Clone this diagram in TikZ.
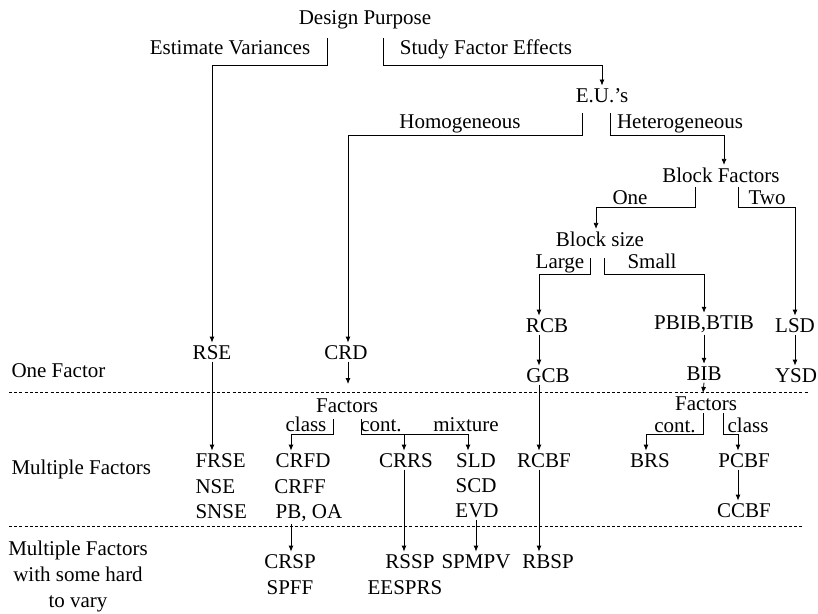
\documentclass[tikz,border=0pt]{standalone}
\usepackage{fontspec}
\setmainfont{Liberation Serif}
\usetikzlibrary{arrows.meta}
\begin{document}
\begin{tikzpicture}[x=1pt,y=-1pt,
  t/.style={inner sep=0pt,outer sep=2.5pt,anchor=base,font=\fontsize{21}{25}\selectfont},
  tl/.style={t,anchor=base west},
  ln/.style={line width=0.8pt},
  arr/.style={line width=0.8pt,-{Latex[length=6pt,width=5pt]}},
  sep/.style={line width=0.7pt,dash pattern=on 3pt off 2.2pt}]
\useasboundingbox (0,0) rectangle (818,613);
% ---------- text nodes ----------
\node[t] (dp) at (365,24) {Design Purpose};
\node[t] (ev) at (230,54) {Estimate Variances};
\node[t] (sfe) at (486,54) {Study Factor Effects};
\node[t] (eu) at (602,102) {E.U.'s};
\node[t] (hom) at (460,128) {Homogeneous};
\node[t] (het) at (680,128) {Heterogeneous};
\node[t] (bf) at (721,182) {Block Factors};
\node[t] (one) at (630,204) {One};
\node[t] (two) at (767,204) {Two};
\node[t] (bs) at (600,246) {Block size};
\node[t] (large) at (560,268) {Large};
\node[t] (small) at (652,268) {Small};
\node[t] (rcb) at (547,332) {RCB};
\node[t] (pbib) at (704,329) {PBIB,BTIB};
\node[t] (lsd) at (795,332) {LSD};
\node[t] (rse) at (212,359) {RSE};
\node[t] (crd) at (346,359) {CRD};
\node[tl] (of) at (9,377) {One Factor};
\node[t] (gcb) at (548,382) {GCB};
\node[t] (bib) at (704,380) {BIB};
\node[t] (ysd) at (796,382) {YSD};
\node[t] (fa1) at (347,412) {Factors};
\node[t] (cl1) at (306,431) {class};
\node[t] (co1) at (381,431) {cont.};
\node[t] (mix) at (466,431) {mixture};
\node[t] (fa2) at (706,410) {Factors};
\node[t] (co2) at (675,432) {cont.};
\node[t] (cl2) at (748,432) {class};
\node[tl] (frse) at (193,467) {FRSE};
\node[tl] (nse) at (193,493) {NSE};
\node[tl] (snse) at (193,518) {SNSE};
\node[tl] (mf) at (9,474) {Multiple Factors};
\node[t] (crfd) at (303,467) {CRFD};
\node[t] (crff) at (300,493) {CRFF};
\node[t] (pboa) at (309,518) {PB, OA};
\node[t] (crrs) at (406,467) {CRRS};
\node[t] (sld) at (476,467) {SLD};
\node[t] (scd) at (476,492) {SCD};
\node[t] (evd) at (477,517) {EVD};
\node[t] (rcbf) at (544,467) {RCBF};
\node[t] (brs) at (650,467) {BRS};
\node[t] (pcbf) at (744,467) {PCBF};
\node[t] (ccbf) at (744,517) {CCBF};
\node[t] (crsp) at (290,568) {CRSP};
\node[t] (spff) at (290,594) {SPFF};
\node[t] (rssp) at (410,568) {RSSP};
\node[t] (eesprs) at (405,594) {EESPRS};
\node[t] (spmpv) at (476,568) {SPMPV};
\node[t] (rbsp) at (548,568) {RBSP};
\node[t] (mfa) at (78,555) {Multiple Factors};
\node[t] (mfb) at (78,581) {with some hard};
\node[t] (mfc) at (78,607) {to vary};
% ---------- separators ----------
\coordinate (d1a) at (9,392); \coordinate (d1b) at (808,392);
\coordinate (d2a) at (9,526); \coordinate (d2b) at (803,526);
\draw[sep] (d1a) -- (d1b);
\draw[sep] (d2a) -- (d2b);
% ---------- bend points / columns ----------
\coordinate (ev0) at (327,38); \coordinate (ev1) at (327,65);
\coordinate (sf0) at (383,38); \coordinate (sf1) at (383,65);
\coordinate (ho0) at (582,113); \coordinate (ho1) at (582,135);
\coordinate (he0) at (610,113); \coordinate (he1) at (610,135);
\coordinate (on0) at (695,187); \coordinate (on1) at (695,207);
\coordinate (tw0) at (738,187); \coordinate (tw1) at (738,207);
\coordinate (la0) at (590,258); \coordinate (la1) at (590,274);
\coordinate (sm0) at (604,258); \coordinate (sm1) at (604,274);
\coordinate (ca0) at (333,419); \coordinate (ca1) at (333,434);
\coordinate (cb0) at (361,419); \coordinate (cb1) at (361,434);
\coordinate (cc0) at (703,413); \coordinate (cc1) at (703,434);
\coordinate (cd0) at (723,413); \coordinate (cd1) at (723,434);
\coordinate (xcrd) at (348,0);
\coordinate (xbf) at (724,0);
\coordinate (xbs) at (596,0);
\coordinate (xrcb) at (539,0);
\coordinate (xcrfd) at (291,0);
\coordinate (xcrrs) at (404,0);
\coordinate (xsld) at (468,0);
\coordinate (xevd) at (476,0);
\coordinate (xbrs) at (646,0);
\coordinate (xpcbf) at (738,0);
\coordinate (crdend) at (348,384);
\coordinate (bibend) at (703,393);
% ---------- connectors ----------
\draw[arr] (ev0) -- (ev1) -| (rse.north);
\draw[arr] (sf0) -- (sf1) -| (eu.north);
\draw[arr] (ho0) -- (ho1) -| (xcrd |- crd.north);
\draw[arr] (he0) -- (he1) -| (xbf |- bf.north);
\draw[arr] (on0) -- (on1) -| (xbs |- bs.north);
\draw[arr] (tw0) -- (tw1) -| (lsd.north);
\draw[arr] (la0) -- (la1) -| (xrcb |- rcb.north);
\draw[arr] (sm0) -- (sm1) -| (pbib.north);
\draw[arr] (xrcb |- rcb.south) -- (xrcb |- gcb.north);
\draw[arr] (pbib.south) -- (pbib.south |- bib.north);
\draw[arr] (lsd.south) -- (lsd.south |- ysd.north);
\draw[arr] (rse.south) -- (rse.south |- frse.north);
\draw[arr] (xcrd |- crd.south) -- (crdend);
\draw[arr] (bib.south) -- (bibend);
\draw[arr] (xrcb |- gcb.south) -- (xrcb |- rcbf.north);
\draw[arr] (ca0) -- (ca1) -| (xcrfd |- crfd.north);
\draw[ln] (cb0) -- (cb1) -- (xsld |- cb1);
\draw[arr] (xcrrs |- cb1) -- (xcrrs |- crrs.north);
\draw[arr] (xsld |- cb1) -- (xsld |- sld.north);
\draw[arr] (cc0) -- (cc1) -| (xbrs |- brs.north);
\draw[arr] (cd0) -- (cd1) -| (xpcbf |- pcbf.north);
\draw[arr] (xpcbf |- pcbf.south) -- (xpcbf |- ccbf.north);
\draw[arr] (xcrfd |- pboa.south) -- (xcrfd |- crsp.north);
\draw[arr] (xcrrs |- crrs.south) -- (xcrrs |- rssp.north);
\draw[arr] (xevd |- evd.south) -- (xevd |- spmpv.north);
\draw[arr] (xrcb |- rcbf.south) -- (xrcb |- rbsp.north);
\end{tikzpicture}
\end{document}
